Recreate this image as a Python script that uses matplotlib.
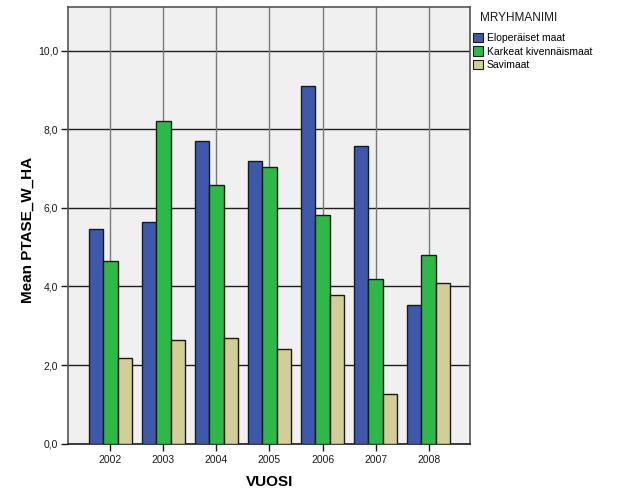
import numpy as np
import matplotlib
matplotlib.use('Agg')
import matplotlib.pyplot as plt
from matplotlib.patches import Patch
from matplotlib.ticker import FuncFormatter

plt.rcParams['font.family'] = ['Liberation Sans', 'DejaVu Sans']

# data
years = ['2002', '2003', '2004', '2005', '2006', '2007', '2008']
groups = ['Eloperäiset maat', 'Karkeat kivennäismaat', 'Savimaat']
elop = [5.45, 5.65, 7.70, 7.18, 9.09, 7.58, 3.54]
karkeat = [4.64, 8.22, 6.58, 7.03, 5.81, 4.18, 4.80]
savi = [2.17, 2.65, 2.70, 2.41, 3.77, 1.26, 4.10]
colors = ['#3E58AC', '#2EB848', '#D3CE97']

fig = plt.figure(figsize=(6.29, 5.04), dpi=100)
ax = fig.add_axes([0.108, 0.1196, 0.640, 0.866])
ax.set_facecolor('#F0F0F0')

x = np.arange(len(years))
w = 0.273
for i, (vals, c) in enumerate(zip([elop, karkeat, savi], colors)):
    ax.bar(x + (i - 1) * w, vals, w, color=c, edgecolor='#1a1a1a',
           linewidth=1.0, zorder=3)

# grid: dark horizontal, grey vertical at category centres
for yv in [2, 4, 6, 8, 10]:
    ax.axhline(yv, color='#1e1e1e', linewidth=1.0, zorder=1)
for xv in x:
    ax.axvline(xv, color='#7a7a7a', linewidth=1.0, zorder=1)

ax.set_xlim(-0.8, 6.79)
ax.set_ylim(0, 11.1)
ax.set_xticks(x)
ax.set_xticklabels(years)
ax.set_yticks([0, 2, 4, 6, 8, 10])
ax.yaxis.set_major_formatter(FuncFormatter(lambda v, p: ('%.1f' % v).replace('.', ',')))
ax.tick_params(axis='both', labelsize=7.5, length=5, width=1, colors='#1a1a1a',
               direction='out', pad=2)
ax.tick_params(axis='x', pad=3)

for s in ['left', 'top', 'right']:
    ax.spines[s].set_color('#555555')
    ax.spines[s].set_linewidth(1.2)
ax.spines['bottom'].set_color('#1a1a1a')
ax.spines['bottom'].set_linewidth(1.2)

ax.set_xlabel('VUOSI', fontsize=11, fontweight='bold', labelpad=7)
ax.set_ylabel('Mean PTASE_W_HA', fontsize=11, fontweight='bold')
ax.yaxis.set_label_coords(-0.083, 0.49)

# legend outside the axes
fig.text(519 / 629, 1 - 18 / 504, 'MRYHMANIMI', fontsize=8.5, ha='center',
         va='center', color='#1a1a1a')
handles = [Patch(facecolor=c, edgecolor='#1a1a1a', linewidth=0.8) for c in colors]
fig.legend(handles, groups, loc='upper left',
           bbox_to_anchor=(473 / 629, 1 - 33 / 504), frameon=False,
           fontsize=7.5, handlelength=1.0, handleheight=1.0,
           handletextpad=0.3, labelspacing=0.3, borderpad=0, borderaxespad=0)

fig.savefig('out.png', dpi=100)
